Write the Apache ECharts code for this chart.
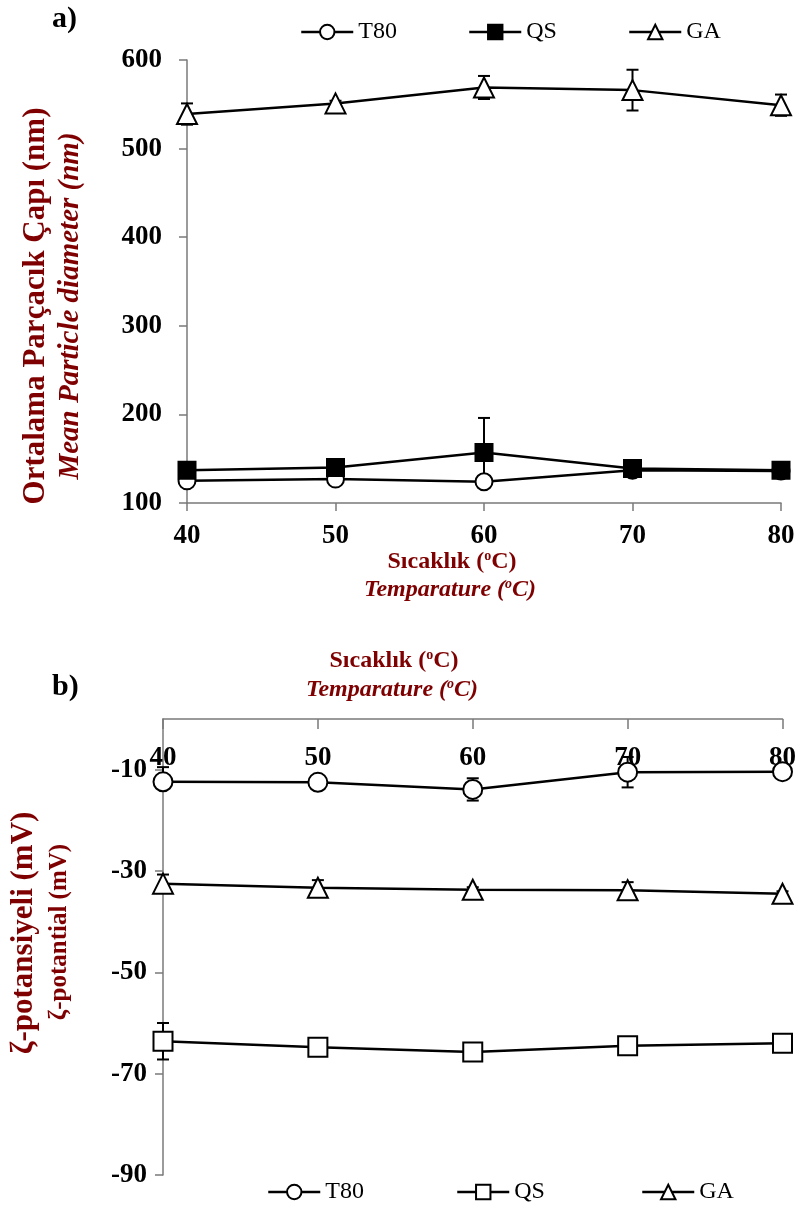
<!DOCTYPE html>
<html>
<head>
<meta charset="utf-8">
<script src="https://cdn.jsdelivr.net/npm/echarts@6/dist/echarts.min.js"></script>
<style>
  html, body { margin: 0; padding: 0; background: #fff; }
  #chart { width: 799px; height: 1207px; }
</style>
</head>
<body>
<div id="chart"></div>
<script>
// Temperatures (°C)
const temps = [40, 50, 60, 70, 80];
const xTicks = [40, 50, 60, 70, 80];

// a) Mean particle diameter (nm) with standard deviations
const sizeT80 = [125, 127, 124, 137, 136];
const sizeQS  = [137, 140, 157, 139, 137];
const sizeGA  = [539, 551, 569, 566, 549];
const sizeErrT80 = [2, 2, 2, 3, 2];
const sizeErrQS  = [3, 3, 39, 3, 3];
const sizeErrGA  = [12, 3, 13, 23, 12];

// b) Zeta potential (mV) with standard deviations ([minus, plus] where one-sided)
const zetaT80 = [-12.4, -12.5, -13.9, -10.5, -10.4];
const zetaQS  = [-63.6, -64.8, -65.7, -64.5, -64.0];
const zetaGA  = [-32.5, -33.3, -33.7, -33.8, -34.5];
const zetaErrT80 = [[0, 2.9], 0.5, 2.2, 3.0, 0.5];
const zetaErrQS  = [3.6, 0.5, 0.5, 0.5, 0.5];
const zetaErrGA  = [1.8, 1.5, 0.5, 1.6, 0.5];

const serif = '"Liberation Serif", "Times New Roman", serif';
const darkRed = '#7f0000';
const axisGray = '#7a7a7a';

const pairs = (xs, ys) => xs.map((x, i) => [x, ys[i]]);
const errRows = (xs, ys, es) => xs.map((x, i) => {
  const e = Array.isArray(es[i]) ? es[i] : [es[i], es[i]];
  return [x, ys[i], e[0], e[1]];
});

function errorBars(name, xs, ys, es, gi) {
  return {
    type: 'custom',
    name: name + ' sd',
    xAxisIndex: gi, yAxisIndex: gi,
    z: 1,
    silent: true,
    data: errRows(xs, ys, es),
    renderItem: function (params, api) {
      const x = api.value(0), y = api.value(1), lo = api.value(2), hi = api.value(3);
      const w = 6;
      const st = { stroke: '#000', lineWidth: 2 };
      const children = [];
      const top = api.coord([x, y + hi]);
      const bot = api.coord([x, y - lo]);
      children.push({ type: 'line', shape: { x1: top[0], y1: top[1], x2: bot[0], y2: bot[1] }, style: st });
      if (hi > 0) children.push({ type: 'line', shape: { x1: top[0] - w, y1: top[1], x2: top[0] + w, y2: top[1] }, style: st });
      if (lo > 0) children.push({ type: 'line', shape: { x1: bot[0] - w, y1: bot[1], x2: bot[0] + w, y2: bot[1] }, style: st });
      return { type: 'group', children: children };
    }
  };
}

function lineSeries(name, xs, ys, gi, symbol, size, fill, z) {
  return {
    type: 'line',
    name: name,
    xAxisIndex: gi, yAxisIndex: gi,
    data: pairs(xs, ys),
    symbol: symbol,
    symbolSize: size,
    z: z,
    showAllSymbol: true,
    lineStyle: { color: '#000', width: 2.5 },
    itemStyle: { color: fill, borderColor: '#000', borderWidth: 2, opacity: 1 },
    emphasis: { disabled: true },
    animation: false
  };
}

const tickLabel = { fontFamily: serif, fontWeight: 'bold', fontSize: 27, color: '#000' };
const legendText = { fontFamily: serif, fontSize: 24, color: '#000' };

function legendItem(name, left, top, fill) {
  return {
    left: left, top: top,
    padding: 0,
    orient: 'horizontal',
    itemWidth: 52, itemHeight: 18,
    selectedMode: false,
    textStyle: legendText,
    data: [{ name: name, itemStyle: { color: fill, borderColor: '#000', borderWidth: 2 }, lineStyle: { color: '#000', width: 2.5 } }]
  };
}

const richTitle = (size, italic) => ({
  t: { fontFamily: serif, fontWeight: 'bold', fontStyle: italic ? 'italic' : 'normal', fontSize: size, fill: darkRed, lineHeight: size + 2 },
  s: { fontFamily: serif, fontWeight: 'bold', fontStyle: italic ? 'italic' : 'normal', fontSize: Math.round(size * 0.6), fill: darkRed, verticalAlign: 'top', lineHeight: size + 2 }
});

function textEl(x, y, text, size, italic, rotate, rich) {
  return {
    type: 'text', x: x, y: y, rotation: rotate ? Math.PI / 2 : 0,
    silent: true,
    style: rich ? {
      text: text, rich: rich, align: 'center', verticalAlign: 'middle'
    } : {
      text: text, fill: darkRed, align: 'center', verticalAlign: 'middle',
      font: (italic ? 'italic ' : '') + 'bold ' + size + 'px ' + serif
    }
  };
}

const chart = echarts.init(document.getElementById('chart'), null, { renderer: 'canvas' });

chart.setOption({
  backgroundColor: '#fff',
  animation: false,
  grid: [
    { left: 187, right: 18, top: 60, height: 443 },
    { left: 163, right: 16, top: 719, height: 456 }
  ],
  xAxis: [
    {
      gridIndex: 0, type: 'value', min: 40, max: 80, interval: 10,
      axisLine: { show: true, lineStyle: { color: axisGray, width: 1.5 } },
      axisTick: { show: true, inside: false, length: 8, lineStyle: { color: axisGray, width: 1.5 } },
      axisLabel: Object.assign({ margin: 20, formatter: v => xTicks.includes(v) ? String(v) : '' }, tickLabel),
      splitLine: { show: false }
    },
    {
      gridIndex: 1, type: 'value', min: 40, max: 80, interval: 10, position: 'top',
      axisLine: { show: true, onZero: false, lineStyle: { color: axisGray, width: 1.5 } },
      axisTick: { show: true, inside: true, length: 10, lineStyle: { color: axisGray, width: 1.5 } },
      axisLabel: Object.assign({ inside: true, margin: 26, formatter: v => xTicks.includes(v) ? String(v) : '' }, tickLabel),
      splitLine: { show: false }
    }
  ],
  yAxis: [
    {
      gridIndex: 0, type: 'value', min: 100, max: 600, interval: 100,
      axisLine: { show: true, lineStyle: { color: axisGray, width: 1.5 } },
      axisTick: { show: true, length: 8, lineStyle: { color: axisGray, width: 1.5 } },
      axisLabel: Object.assign({ margin: 25 }, tickLabel),
      splitLine: { show: false }
    },
    {
      gridIndex: 1, type: 'value', min: -90, max: 0, interval: 20,
      axisLine: { show: true, lineStyle: { color: axisGray, width: 1.5 } },
      axisTick: { show: true, length: 8, lineStyle: { color: axisGray, width: 1.5 } },
      axisLabel: Object.assign({ margin: 16, showMaxLabel: false }, tickLabel),
      splitLine: { show: false }
    }
  ],
  legend: [
    legendItem('T80', 300, 20, '#fff'),
    legendItem('QS', 468, 20, '#000'),
    legendItem('GA', 628, 20, '#fff'),
    legendItem('T80', 267, 1180, '#fff'),
    legendItem('QS', 456, 1180, '#fff'),
    legendItem('GA', 641, 1180, '#fff')
  ],
  graphic: [
    { type: 'text', x: 52, y: 4, silent: true, style: { text: 'a)', font: 'bold 30px ' + serif, fill: '#000' } },
    { type: 'text', x: 52, y: 672, silent: true, style: { text: 'b)', font: 'bold 30px ' + serif, fill: '#000' } },
    textEl(36, 306, 'Ortalama Parçacık Çapı (nm)', 31, false, true),
    textEl(71, 306, 'Mean Particle diameter (nm)', 29, true, true),
    textEl(24, 933, 'ζ-potansiyeli (mV)', 31, false, true),
    textEl(60, 932, 'ζ-potantial (mV)', 25, false, true),
    textEl(452, 562, '{t|Sıcaklık (}{s|o}{t|C)}', 24, false, false, richTitle(24, false)),
    textEl(450, 590, '{t|Temparature (}{s|o}{t|C)}', 24, true, false, richTitle(24, true)),
    textEl(394, 661, '{t|Sıcaklık (}{s|o}{t|C)}', 24, false, false, richTitle(24, false)),
    textEl(392, 690, '{t|Temparature (}{s|o}{t|C)}', 24, true, false, richTitle(24, true))
  ],
  series: [
    errorBars('T80', temps, sizeT80, sizeErrT80, 0),
    errorBars('QS', temps, sizeQS, sizeErrQS, 0),
    errorBars('GA', temps, sizeGA, sizeErrGA, 0),
    lineSeries('T80', temps, sizeT80, 0, 'circle', 17, '#fff', 3),
    lineSeries('QS', temps, sizeQS, 0, 'rect', 17, '#000', 4),
    lineSeries('GA', temps, sizeGA, 0, 'triangle', 20, '#fff', 3),

    errorBars('T80', temps, zetaT80, zetaErrT80, 1),
    errorBars('QS', temps, zetaQS, zetaErrQS, 1),
    errorBars('GA', temps, zetaGA, zetaErrGA, 1),
    lineSeries('T80', temps, zetaT80, 1, 'circle', 19, '#fff', 3),
    lineSeries('QS', temps, zetaQS, 1, 'rect', 19, '#fff', 3),
    lineSeries('GA', temps, zetaGA, 1, 'triangle', 20, '#fff', 3)
  ]
});
</script>
</body>
</html>
